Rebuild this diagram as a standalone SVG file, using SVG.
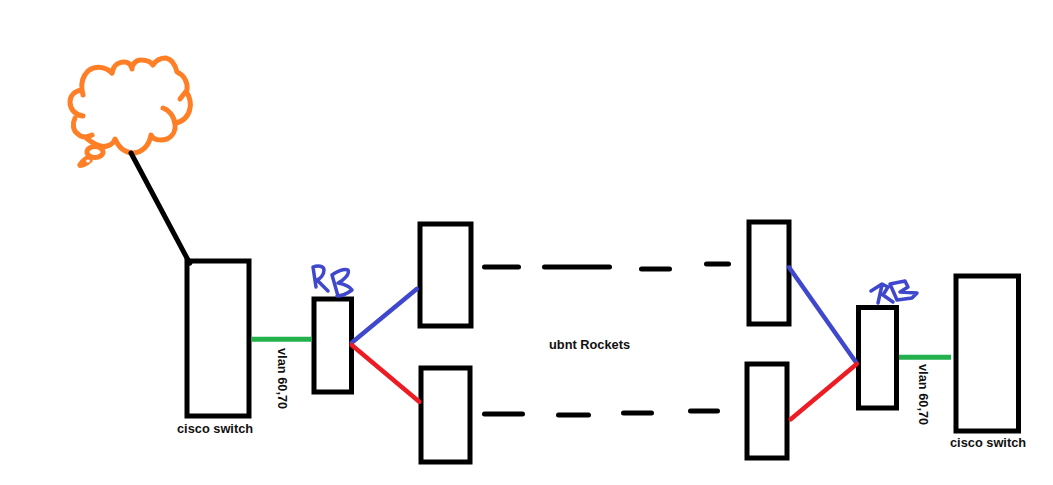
<svg xmlns="http://www.w3.org/2000/svg" width="1053" height="485" viewBox="0 0 1053 485">
<style>
.box{fill:#fff;stroke:#000;stroke-width:5}
.c{fill:none;stroke-linecap:round;stroke-linejoin:round}
.dash{stroke:#000;stroke-width:5;stroke-linecap:round}
.blue{stroke:#3f48cc;stroke-width:4.5}
.red{stroke:#ed1c24;stroke-width:4.5}
.green{stroke:#22b14c;stroke-width:5;stroke-linecap:butt}
.o{fill:none;stroke:#ff7f27;stroke-width:5;stroke-linecap:round;stroke-linejoin:round}
.rb{fill:none;stroke:#3f48cc;stroke-width:3.500;stroke-linecap:round;stroke-linejoin:round}
text{font-family:"Liberation Sans",Arial,sans-serif;font-size:12.800px;font-weight:bold;fill:#111}
</style>
<rect width="1053" height="485" fill="#fff"/>
<g id="cloud">
<path class="o" d="M112 73C106 67 96 65 88 71C83 76 81 83 82 90L83 95M82 90C74 91 70 96 70 102C70 109 75 115 83 116M75 118C72 124 73 131 78 134C81 137 86 138 92 135M85 137C92 143 100 148 107 146C111 145 114 142 115 139C118 146 124 152 132 153C142 153 149 146 151 135C153 140 160 141 167 139C173 136 176 130 175 124C174 116 169 110 163 108"/>
<path class="o" d="M112 73C113 66 118 62 124 62C128 62 131 64 132 69C132 64 136 60 141 60C146 60 151 62 153 65C156 60 161 58 166 58C171 59 175 64 177 72C184 75 188 82 187 90L180 99M187 93C190 97 191 104 190 108C189 116 183 122 175 123"/>
<ellipse class="o" cx="95" cy="152" rx="8" ry="5.500"/>
<path d="M77 165C79 161 84 156 88 155C92 156 94 160 92 162C88 166 83 168 79 168Z" fill="#ff7f27"/>
<ellipse cx="88" cy="161" rx="2" ry="1.500" fill="#fff"/>
</g>
<g id="switch-left"><rect class="box" x="187" y="261" width="62" height="155"/><text x="177" y="433">cisco switch</text></g>
<g id="rb-left"><rect class="box" x="314" y="299" width="37.500" height="93"/>
<path class="rb" d="M313 267L316 287M313 267C318 265 324 266 324 270C324 275 320 279 317 280L328 291M332 275L338 296M332 275C336 272 344 268 348 270C350 274 344 280 338 283C344 284 350 287 352 290C348 293 342 296 337 296"/></g>
<g id="rocket-tl"><rect class="box" x="420" y="224" width="51" height="102"/></g>
<g id="rocket-bl"><rect class="box" x="421" y="368" width="49" height="94"/></g>
<g id="rocket-tr"><rect class="box" x="749" y="222" width="40" height="102"/></g>
<g id="rocket-br"><rect class="box" x="747" y="364" width="40" height="94"/></g>
<g id="rb-right"><rect class="box" x="858.500" y="307.500" width="38" height="100.500"/>
<path class="rb" d="M882 285L878 303M871 291L882 284L888 287L883 295L893 302M890 284L897 300M890 284L905 281L908 287L900 292L917 293L912 298L897 300"/></g>
<g id="switch-right"><rect class="box" x="956" y="276" width="62.500" height="155"/><text x="950" y="447">cisco switch</text></g>
<g id="connectors">
<path class="c" stroke="#000" stroke-width="5" d="M131 153L188 260"/>
<path class="c" stroke="#000" stroke-width="5" d="M188 261L190 263"/>
<path class="green" d="M251.500 339.300H311.700"/>
<path class="c blue" d="M351.700 342.700L416.700 289"/>
<path class="c red" d="M351.700 345L419.300 401.700"/>
<path class="c blue" d="M789 267.300L856.700 363.300"/>
<path class="c red" d="M790.700 419.300L856.700 364"/>
<path class="green" d="M899 357.300H951"/>
<path class="dash" d="M484.500 267H518.500M544.500 267H609.500M641.500 269H669.500M706.500 264H728.500"/>
<path class="dash" d="M484.500 414H522.500M558.500 415H588.500M623.500 413H651.500M690.500 411H717.500"/>
</g>
<text x="549" y="349">ubnt Rockets</text>
<text transform="translate(278 348) rotate(90)">vlan 60,70</text>
<text transform="translate(919 364) rotate(90)">vlan 60,70</text>
</svg>
